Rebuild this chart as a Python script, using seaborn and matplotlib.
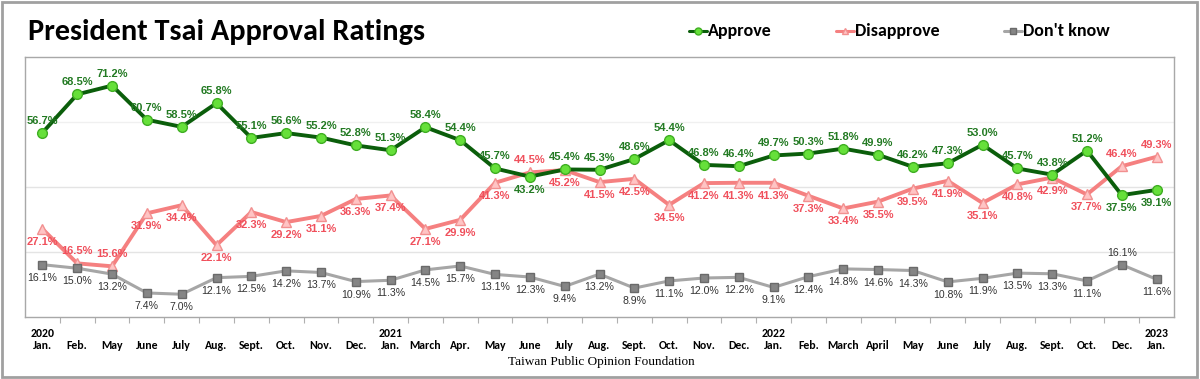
import matplotlib
matplotlib.use("Agg")
import matplotlib.pyplot as plt
import seaborn as sns
import pandas as pd
import numpy as np
from matplotlib import font_manager
from matplotlib.patches import Rectangle
from matplotlib.lines import Line2D
from matplotlib.ticker import FixedLocator

# --- data ---
months = ["Jan.", "Feb.", "May", "June", "July", "Aug.", "Sept.", "Oct.", "Nov.", "Dec.",
          "Jan.", "March", "Apr.", "May", "June", "July", "Aug.", "Sept.", "Oct.", "Nov.", "Dec.",
          "Jan.", "Feb.", "March", "April", "May", "June", "July", "Aug.", "Sept.", "Oct.", "Dec.",
          "Jan."]
years = {0: "2020", 10: "2021", 21: "2022", 32: "2023"}

approve = [56.7, 68.5, 71.2, 60.7, 58.5, 65.8, 55.1, 56.6, 55.2, 52.8, 51.3, 58.4, 54.4,
           45.7, 43.2, 45.4, 45.3, 48.6, 54.4, 46.8, 46.4, 49.7, 50.3, 51.8, 49.9, 46.2,
           47.3, 53.0, 45.7, 43.8, 51.2, 37.5, 39.1]
disapprove = [27.1, 16.5, 15.6, 31.9, 34.4, 22.1, 32.3, 29.2, 31.1, 36.3, 37.4, 27.1, 29.9,
              41.3, 44.5, 45.2, 41.5, 42.5, 34.5, 41.2, 41.3, 41.3, 37.3, 33.4, 35.5, 39.5,
              41.9, 35.1, 40.8, 42.9, 37.7, 46.4, 49.3]
dont_know = [16.1, 15.0, 13.2, 7.4, 7.0, 12.1, 12.5, 14.2, 13.7, 10.9, 11.3, 14.5, 15.7,
             13.1, 12.3, 9.4, 13.2, 8.9, 11.1, 12.0, 12.2, 9.1, 12.4, 14.8, 14.6, 14.3,
             10.8, 11.9, 13.5, 13.3, 11.1, 16.1, 11.6]

# label placement exceptions: approve labels sit above, the others below, except these
approve_below = {14, 31, 32}
disapprove_above = {1, 2, 14, 31, 32}
dont_know_above = {31}

# --- fonts ---
installed = {f.name for f in font_manager.fontManager.ttflist}
def pick(*names):
    for n in names:
        if n in installed:
            return n
    return "DejaVu Sans"

head_font = pick("Carlito", "Liberation Sans Narrow", "Roboto", "Lato")
num_font = pick("Liberation Sans", "Arial", "DejaVu Sans")
serif_font = pick("Liberation Serif", "DejaVu Serif")

sns.set_theme(style="white")
plt.rcParams["font.family"] = [num_font, "DejaVu Sans"]
plt.rcParams["text.color"] = "black"

df = pd.DataFrame({
    "idx": np.arange(len(months)),
    "Approve": approve,
    "Disapprove": disapprove,
    "Don't know": dont_know,
})

W, H = 1200, 379
fig = plt.figure(figsize=(W / 100, H / 100), dpi=100)
ax = fig.add_axes([25 / W, 1 - 317 / H, 1149 / W, 260 / H])

styles = {
    "Approve": dict(color="#0b5e0b", marker="o", mfc="#66e03a", mec="#3fae22", ms=7, lw=2.8),
    "Disapprove": dict(color="#f58080", marker="^", mfc="#ffc4c4", mec="#f29090", ms=7, lw=2.8),
    "Don't know": dict(color="#a6a6a6", marker="s", mfc="#858585", mec="#6a6a6a", ms=6, lw=2.2),
}
for name, st in styles.items():
    sns.lineplot(data=df, x="idx", y=name, ax=ax, color=st["color"], lw=st["lw"],
                 marker=st["marker"], markersize=st["ms"], markerfacecolor=st["mfc"],
                 markeredgecolor=st["mec"], markeredgewidth=1,
                 zorder=3 if name == "Approve" else 2)

# data labels
for i in range(len(months)):
    up = i not in approve_below
    ax.annotate(f"{approve[i]:.1f}%", (i, approve[i]), xytext=(0, 12 if up else -13),
                textcoords="offset pixels", ha="center", va="center",
                fontsize=8, fontweight="bold", color="#237a23")
    up = i in disapprove_above
    ax.annotate(f"{disapprove[i]:.1f}%", (i, disapprove[i]), xytext=(0, 12 if up else -13),
                textcoords="offset pixels", ha="center", va="center",
                fontsize=8, fontweight="bold", color="#f0505c")
    up = i in dont_know_above
    ax.annotate(f"{dont_know[i]:.1f}%", (i, dont_know[i]), xytext=(0, 12 if up else -13),
                textcoords="offset pixels", ha="center", va="center",
                fontsize=7.6, color="#333333")

ax.set_xlim(-0.5, len(months) - 0.5)
ax.set_ylim(0, 80)
ax.set_yticks([])
for y, c in [(20, "#e4e4e4"), (40, "#e4e4e4"), (60, "#f0f0f0")]:
    ax.axhline(y, color=c, lw=1, zorder=0)

labels = [(years[i] + "\n" if i in years else "\n") + m for i, m in enumerate(months)]
ax.set_xticks(range(len(months)))
ax.set_xticklabels(labels, fontsize=8.5, fontweight="bold", family=head_font, linespacing=1.1,
                   color="black")
ax.xaxis.set_minor_locator(FixedLocator(np.arange(0.5, len(months) - 1, 1)))
ax.tick_params(axis="x", which="major", length=0, pad=8)
ax.tick_params(axis="x", which="minor", length=4, width=0.8, color="#b0b0b0", bottom=True)
ax.set_xlabel("")
ax.set_ylabel("")
for s in ax.spines.values():
    s.set_color("#a8a8a8")
    s.set_linewidth(1)

# title
fig.text(28 / W, 1 - 32 / H, "President Tsai Approval Ratings", fontsize=21.8,
         fontweight="bold", family=head_font, va="center", ha="left", color="black")

# legend drawn by hand at the reference positions
for (name, st), mx in zip(styles.items(), [698, 845, 1013]):
    fig.add_artist(Line2D([(mx - 9) / W, (mx + 9) / W], [1 - 31 / H] * 2,
                          transform=fig.transFigure, color=st["color"], lw=2.2))
    fig.add_artist(Line2D([mx / W], [1 - 31 / H], transform=fig.transFigure, lw=0,
                          marker=st["marker"], ms=5, mfc=st["mfc"], mec=st["mec"]))
    fig.text((mx + 10) / W, 1 - 31 / H, name, fontsize=13, fontweight="bold",
             family=head_font, va="center", ha="left", color="black")

fig.text(601 / W, 1 - 362 / H, "Taiwan Public Opinion Foundation", fontsize=9.5,
         family=serif_font, ha="center", va="center", color="black")

fig.add_artist(Rectangle((2 / W, 2 / H), 1195 / W, 375 / H, transform=fig.transFigure,
                         fill=False, ec="#a0a0a0", lw=2))

fig.savefig("out.png", dpi=100, facecolor="white")
